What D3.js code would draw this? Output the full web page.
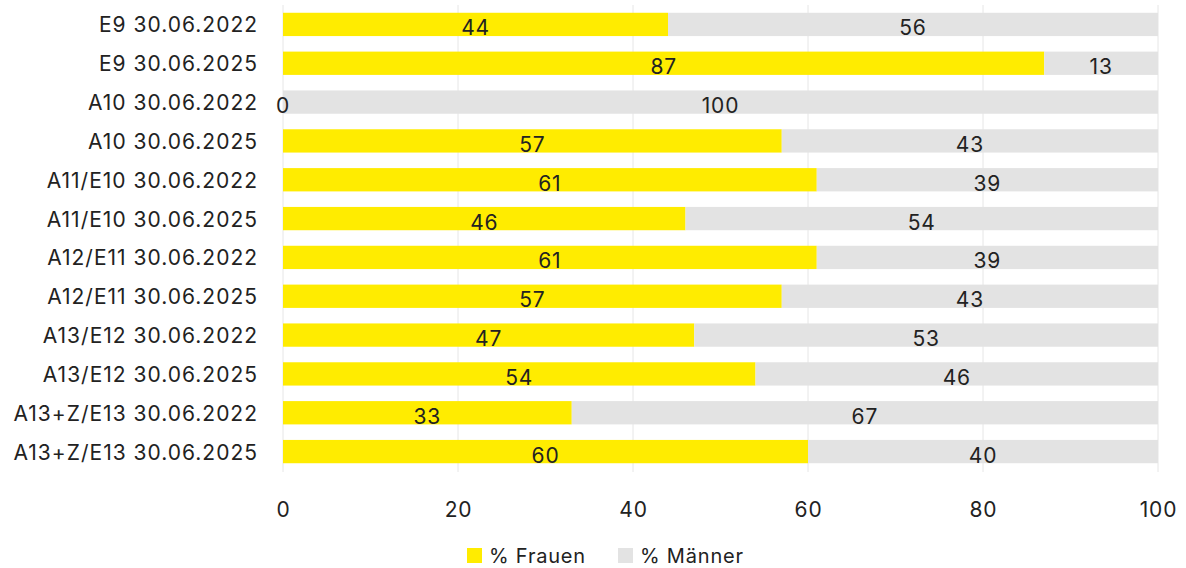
<!DOCTYPE html>
<html><head><meta charset="utf-8">
<script src="https://cdn.jsdelivr.net/npm/d3@7"></script>
<style>body{margin:0;background:#fff}svg{display:block}text{font-family:Inter,"Liberation Sans",sans-serif;fill:#222}</style>
</head><body><svg id="c" width="1186" height="568"></svg>
<script>
const categories=["E9 30.06.2022","E9 30.06.2025","A10 30.06.2022","A10 30.06.2025","A11/E10 30.06.2022","A11/E10 30.06.2025","A12/E11 30.06.2022","A12/E11 30.06.2025","A13/E12 30.06.2022","A13/E12 30.06.2025","A13+Z/E13 30.06.2022","A13+Z/E13 30.06.2025"];
const frauen=[44,87,0,57,61,46,61,57,47,54,33,60];
const maenner=[56,13,100,43,39,54,39,43,53,46,67,40];
const seriesNames=["% Frauen","% Männer"];
const colors=["#FFEC00","#E3E3E3"];
const xTicks=[0,20,40,60,80,100];

const svg=d3.select("#c");
const x=d3.scaleLinear().domain([0,100]).range([283,1158]);
const y=d3.scaleBand().domain(categories).range([5,471]).paddingInner(0.4).paddingOuter(0.2);

svg.append("g").selectAll("line").data(xTicks).join("line")
 .attr("x1",d=>x(d)).attr("x2",d=>x(d)).attr("y1",5).attr("y2",472)
 .attr("stroke","#e6e6e6").attr("stroke-width",1);

const rows=categories.map((c,i)=>({c,f:frauen[i],m:maenner[i]}));
const g=svg.append("g");
g.selectAll("rect.f").data(rows).join("rect").attr("class","f")
 .attr("x",x(0)).attr("y",d=>y(d.c)).attr("width",d=>x(d.f)-x(0)).attr("height",y.bandwidth()).attr("fill",colors[0]);
g.selectAll("rect.m").data(rows).join("rect").attr("class","m")
 .attr("x",d=>x(d.f)).attr("y",d=>y(d.c)).attr("width",d=>x(d.f+d.m)-x(d.f)).attr("height",y.bandwidth()).attr("fill",colors[1]);

const lab=(sel)=>sel.attr("text-anchor","middle").attr("font-size",21).style("letter-spacing","0.8px");
lab(g.selectAll("text.lf").data(rows).join("text").attr("class","lf")
 .attr("x",d=>x(d.f/2)).attr("y",d=>y(d.c)+y.bandwidth()/2+11).text(d=>d.f));
lab(g.selectAll("text.lm").data(rows).join("text").attr("class","lm")
 .attr("x",d=>x(d.f+d.m/2)).attr("y",d=>y(d.c)+y.bandwidth()/2+11).text(d=>d.m));

svg.append("g").selectAll("text").data(categories).join("text")
 .attr("x",257).attr("y",d=>y(d)+y.bandwidth()/2+8).attr("text-anchor","end").attr("font-size",21)
 .style("letter-spacing","1px").attr("dx","1px").text(d=>d);

const xa=svg.append("g").attr("transform","translate(0,500)")
 .call(d3.axisBottom(x).tickValues(xTicks).tickSize(0).tickPadding(0));
xa.select(".domain").remove();
xa.selectAll("text").attr("font-size",21).attr("dy","0.8em").style("font-family","Inter,'Liberation Sans',sans-serif").style("letter-spacing","0.8px").attr("fill","#222");

const leg=svg.append("g");
const lx=[467,618];
seriesNames.forEach((n,i)=>{
 leg.append("rect").attr("x",lx[i]).attr("y",548).attr("width",15).attr("height",15).attr("fill",colors[i]);
 leg.append("text").attr("x",lx[i]+22).attr("y",563).attr("font-size",20).style("letter-spacing","0.8px").text(n);
});
</script></body></html>
